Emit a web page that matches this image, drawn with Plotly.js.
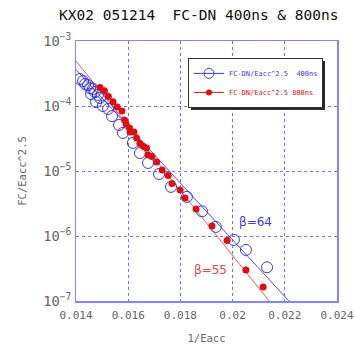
<!DOCTYPE html>
<html>
<head>
<meta charset="utf-8">
<script src="https://cdn.plot.ly/plotly-3.0.1.min.js"></script>
<style>html,body{margin:0;padding:0;background:#fff;}#chart{width:355px;height:349px;}</style>
</head>
<body>
<div id="chart"></div>
<script>
// 400ns data (1/Eacc, FC/Eacc^2.5)
const x400 = [0.01415,0.01427,0.01435,0.01446,0.01454,0.01465,0.01473,0.01458,0.01484,0.01492,0.01477,0.01503,0.01523,0.01538,0.01565,0.01580,0.01618,0.01645,0.01676,0.01718,0.01764,0.01825,0.01883,0.01936,0.02005,0.02051,0.02132];
const y400 = [2.60e-4,2.42e-4,2.18e-4,2.10e-4,1.89e-4,1.83e-4,1.64e-4,1.53e-4,1.48e-4,1.33e-4,1.15e-4,1.00e-4,9.0e-5,7.0e-5,5.1e-5,3.85e-5,2.70e-5,1.89e-5,1.33e-5,9.0e-6,5.7e-6,4.0e-6,2.4e-6,1.38e-6,8.7e-7,6.1e-7,3.3e-7];
// 800ns data
const x800 = [0.01492,0.01509,0.01524,0.01542,0.01558,0.01576,0.01586,0.01592,0.01605,0.01607,0.01622,0.01632,0.01645,0.01659,0.01670,0.01676,0.01691,0.01709,0.01730,0.01753,0.01768,0.01799,0.01818,0.01860,0.01921,0.01979,0.02051,0.02117];
const y800 = [1.93e-4,1.72e-4,1.40e-4,1.16e-4,9.66e-5,8.38e-5,6.09e-5,5.29e-5,4.59e-5,3.98e-5,3.98e-5,3.22e-5,2.65e-5,2.38e-5,2.26e-5,1.76e-5,1.67e-5,1.38e-5,1.04e-5,8.53e-6,6.43e-6,5.10e-6,3.85e-6,2.60e-6,1.43e-6,8.53e-7,3.00e-7,1.64e-7];
// Fowler-Nordheim fit lines
const fit400X = [0.0140, 0.0222];
const fit400Y = [3.63e-4, 9.57e-8];
const fit800X = [0.0140, 0.0215];
const fit800Y = [4.92e-4, 8.95e-8];
// labels
const legend400 = "FC-DN/Eacc^2.5  400ns";
const legend800 = "FC-DN/Eacc^2.5 800ns";
const beta400 = "β=64";
const beta800 = "β=55";
const titleText = "KX02 051214&nbsp;&nbsp;FC-DN 400ns &amp; 800ns";

const BLUE = '#3c3cdc';
const RED = '#dd1010';
const mono = '"DejaVu Sans Mono", monospace';

const traces = [
  {x: fit400X, y: fit400Y, mode: 'lines', line: {color: '#4a4aff', width: 1}, showlegend: false, hoverinfo: 'skip'},
  {x: fit800X, y: fit800Y, mode: 'lines', line: {color: '#ee5555', width: 1}, showlegend: false, hoverinfo: 'skip'},
  {x: x400, y: y400, mode: 'markers', showlegend: false,
   marker: {symbol: 'circle-open', size: 11, color: BLUE, line: {width: 1, color: BLUE}}},
  {x: x800, y: y800, mode: 'markers', showlegend: false,
   marker: {symbol: 'circle', size: 7, color: RED}},
  {x: [null], y: [null], mode: 'lines+markers', name: legend400,
   line: {color: BLUE, width: 1}, marker: {symbol: 'circle-open', size: 10, color: BLUE, line: {width: 1, color: BLUE}}},
  {x: [null], y: [null], mode: 'lines+markers', name: legend800,
   line: {color: RED, width: 1}, marker: {symbol: 'circle', size: 6, color: RED}}
];

const axisCommon = {
  showline: true, linecolor: '#8585ff', linewidth: 1.5, mirror: true,
  showgrid: true, gridcolor: '#7070ff', gridwidth: 1, griddash: 'dot',
  zeroline: false, ticks: '', tickfont: {family: mono, size: 11, color: '#666'}
};

const layout = {
  width: 355, height: 349,
  margin: {l: 76, r: 18, t: 41, b: 48},
  paper_bgcolor: '#fff', plot_bgcolor: '#fff',
  title: {text: titleText, font: {family: mono, size: 14.5, color: '#111'},
          xref: 'container', x: 0.56, xanchor: 'center', yref: 'container', y: 0.957, yanchor: 'middle'},
  xaxis: Object.assign({}, axisCommon, {
    range: [0.014, 0.024], dtick: 0.002, tick0: 0.014, ticklabelstandoff: 3,
    title: {text: '1/Eacc', font: {family: mono, size: 10.5, color: '#666'}, standoff: 14}
  }),
  yaxis: Object.assign({}, axisCommon, {
    type: 'log', range: [-7, -3], dtick: 1, exponentformat: 'power', ticklabelstandoff: 1,
    title: {text: 'FC/Eacc^2.5', font: {family: mono, size: 10.5, color: '#666'}, standoff: 14}
  }),
  showlegend: true,
  legend: {x: 0.429, y: 0.935, xanchor: 'left', yanchor: 'top',
           bgcolor: '#fff', bordercolor: '#333', borderwidth: 1,
           font: {family: mono, size: 7}, itemwidth: 30},
  annotations: [
    {x: 0.02086, y: -5.785, xref: 'x', yref: 'y', text: beta400, showarrow: false,
     font: {family: 'DejaVu Sans', size: 12, color: BLUE}},
    {x: 0.01917, y: -6.523, xref: 'x', yref: 'y', text: beta800, showarrow: false,
     font: {family: 'DejaVu Sans', size: 12, color: '#e04848'}}
  ]
};

Plotly.newPlot('chart', traces, layout, {staticPlot: true}).then(function(gd){
  // color legend text to match series
  const texts = gd.querySelectorAll('.legendtext');
  if (texts[0]) texts[0].style.fill = BLUE;
  if (texts[1]) texts[1].style.fill = RED;
  // tighten legend box and add drop shadow
  const bg = gd.querySelector('.legend .bg');
  if (bg) {
    const leg = gd.querySelector('.legend');
    const w = 134, h = +bg.getAttribute('height');
    bg.setAttribute('width', w);
    const ns = 'http://www.w3.org/2000/svg';
    const sh = document.createElementNS(ns, 'rect');
    sh.setAttribute('x', 3); sh.setAttribute('y', 3);
    sh.setAttribute('width', w); sh.setAttribute('height', h);
    sh.setAttribute('fill', '#222');
    leg.insertBefore(sh, leg.firstChild);
  }
});
</script>
</body>
</html>
